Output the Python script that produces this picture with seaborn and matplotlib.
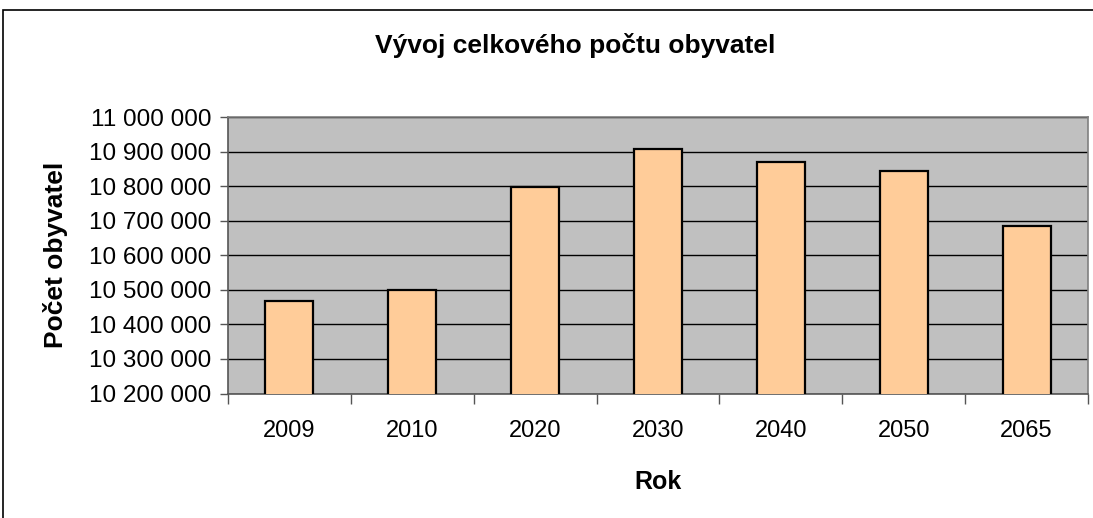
import matplotlib
matplotlib.use("Agg")
import matplotlib.pyplot as plt
import seaborn as sns
import pandas as pd
from matplotlib.ticker import FuncFormatter, MultipleLocator
from matplotlib.patches import Rectangle

years = ["2009", "2010", "2020", "2030", "2040", "2050", "2065"]
population = [10467000, 10500000, 10797000, 10906000, 10871000, 10843000, 10686000]

df = pd.DataFrame({"Rok": years, "Počet obyvatel": population})

sns.set_theme(style="white")
plt.rcParams["font.family"] = ["Liberation Sans", "DejaVu Sans"]

fig = plt.figure(figsize=(10.93, 5.18), dpi=100)
ax = fig.add_axes([228 / 1093, 1 - 393.5 / 518, (1088 - 228) / 1093, (393.5 - 117) / 518])

sns.barplot(data=df, x="Rok", y="Počet obyvatel", ax=ax, color="#FFCC99",
            width=0.39, edgecolor="black", linewidth=1.6, saturation=1, zorder=3)

ax.set_facecolor("#C0C0C0")
ax.set_ylim(10200000, 11000000)
ax.yaxis.set_major_locator(MultipleLocator(100000))
ax.yaxis.set_major_formatter(FuncFormatter(lambda v, p: f"{int(round(v)):,}".replace(",", " ")))
ax.grid(axis="y", color="black", linewidth=1.0, zorder=1)
ax.set_axisbelow(True)
ax.set_xlim(-0.5, len(years) - 0.5)

# category boundary ticks
ax.set_xticks([i - 0.5 for i in range(len(years) + 1)], minor=True)
ax.tick_params(axis="x", which="minor", length=7, width=1, color="#555555", direction="out", bottom=True)
ax.tick_params(axis="x", which="major", length=0, labelsize=17, pad=19, labelcolor="black")
ax.tick_params(axis="y", which="major", length=6, width=1, color="#555555", direction="out", left=True,
               labelsize=17.5, labelcolor="black", pad=6)

for side in ["top", "right", "left", "bottom"]:
    ax.spines[side].set_visible(True)
    ax.spines[side].set_color("#808080")
    ax.spines[side].set_linewidth(1.2)
ax.spines["left"].set_color("#555555")
ax.spines["bottom"].set_color("#555555")

ax.set_xlabel("Rok", fontsize=18, fontweight="bold", labelpad=20, color="black")
ax.set_ylabel("Počet obyvatel", fontsize=19, fontweight="bold", labelpad=15, color="black")
fig.text(0.5 + 29 / 1093, 1 - 45 / 518, "Vývoj celkového počtu obyvatel", ha="center", va="center",
         fontsize=19, fontweight="bold", color="black")

# figure border
fig.patches.append(Rectangle((3 / 1093, -0.01), 1.1, 1 - 10 / 518 + 0.01, transform=fig.transFigure,
                             fill=False, edgecolor="black", linewidth=1.2))

fig.savefig("out.png", dpi=100)
